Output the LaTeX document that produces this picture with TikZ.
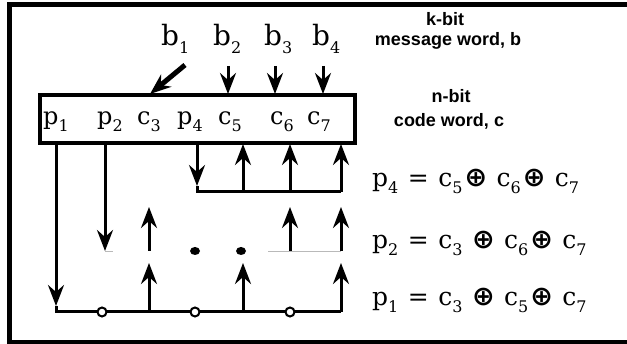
\documentclass[tikz,border=0pt]{standalone}
\usepackage{fontspec}
\setmainfont{DejaVu Serif}
\setsansfont{Liberation Sans}
\newfontfamily\symfont{DejaVu Sans}
\usetikzlibrary{arrows.meta,shapes.geometric}
\newcommand{\lowidx}[1]{\raisebox{-0.27em}{\fontsize{16}{16}\selectfont #1}}
\newcommand{\xo}{{\symfont\bfseries\fontsize{27}{27}\selectfont ⊕}}
\newcommand{\gapA}{\hspace{9.5pt}}
\newcommand{\gapB}{\hspace{2pt}}
\begin{document}
\begin{tikzpicture}[x=1pt,y=-1pt,
  conn/.style={line width=3pt},
  arr/.style={conn,-{Stealth[length=21pt,width=16pt,inset=7pt]}},
  lbl/.style={inner sep=0pt,anchor=base west,font=\fontsize{24}{24}\selectfont},
  eq/.style={inner sep=0pt,anchor=base west,font=\fontsize{25}{25}\selectfont},
  blbl/.style={inner sep=0pt,anchor=base west,font=\fontsize{28}{28}\selectfont},
  note/.style={inner sep=0pt,anchor=base,font=\fontsize{18}{18}\selectfont\sffamily\bfseries},
  hole/.style={circle,draw,fill=white,line width=2pt,minimum size=9pt,inner sep=0pt},
  dot/.style={ellipse,fill=black,minimum width=10pt,minimum height=8pt,inner sep=0pt},
  faint/.style={gray!55,line width=0.8pt}
]
\useasboundingbox (0,0) rectangle (627,344);
% frame
\coordinate (f1) at (627,4.5);
\coordinate (f2) at (9.5,4.5);
\coordinate (f3) at (9.5,342);
\coordinate (f4) at (627,342);
\draw[line width=4.5pt] (f1) -- (f2) -- (f3) -- (f4);
% register
\node (reg) [draw, line width=3.2pt, minimum width=315pt, minimum height=48pt, inner sep=0pt] at (197.5,119) {};
\node[lbl] (lp1) at (43,125) {p\lowidx{1}};
\node[lbl] (lp2) at (97,125) {p\lowidx{2}};
\node[lbl] (lc3) at (137,125) {c\lowidx{3}};
\node[lbl] (lp4) at (177,125) {p\lowidx{4}};
\node[lbl] (lc5) at (218,125) {c\lowidx{5}};
\node[lbl] (lc6) at (270,125) {c\lowidx{6}};
\node[lbl] (lc7) at (307,125) {c\lowidx{7}};
% message bits
\node[blbl] (lb1) at (161,46) {b\lowidx{1}};
\node[blbl] (lb2) at (213,46) {b\lowidx{2}};
\node[blbl] (lb3) at (264,46) {b\lowidx{3}};
\node[blbl] (lb4) at (312,46) {b\lowidx{4}};
\coordinate (b1s) at (185,65);  \coordinate (b1e) at (150,94);
\coordinate (b2s) at (228,66);  \coordinate (b2e) at (228,94);
\coordinate (b3s) at (275,66);  \coordinate (b3e) at (275,94);
\coordinate (b4s) at (323,66);  \coordinate (b4e) at (323,94);
\draw[arr,line width=5pt] (b1s) -- (b1e);
\draw[arr] (b2s) -- (b2e);
\draw[arr] (b3s) -- (b3e);
\draw[arr] (b4s) -- (b4e);
% columns below the register
\coordinate (t1) at (56,144);  \coordinate (t2) at (105,144);
\coordinate (t4) at (197,144); \coordinate (t5) at (243,144);
\coordinate (t6) at (290,144); \coordinate (t7) at (341,144);
% row 1 (p4)
\coordinate (r1a) at (197,186); \coordinate (r1L) at (197,192);
\coordinate (r1c5) at (243,192); \coordinate (r1c6) at (290,192); \coordinate (r1R) at (341,192);
\draw[arr] (t4) -- (r1a);
\draw[conn] (r1a) -- (r1L) -- (r1R);
\draw[arr] (r1c5) -- (t5);
\draw[arr] (r1c6) -- (t6);
\draw[arr] (r1R) -- (t7);
% row 2 (p2)
\coordinate (r2L) at (105,251);
\coordinate (r2c3) at (149,251); \coordinate (r2c3t) at (149,207);
\coordinate (r2c6) at (290,251); \coordinate (r2c6t) at (290,207);
\coordinate (r2R) at (341,251);  \coordinate (r2Rt) at (341,207);
\coordinate (r2g1) at (113,251); \coordinate (r2g2) at (268,251);
\draw[faint] (r2L) -- (r2g1);
\draw[faint] (r2g2) -- (r2R);
\draw[arr] (t2) -- (r2L);
\draw[arr] (r2c3) -- (r2c3t);
\draw[arr] (r2c6) -- (r2c6t);
\draw[arr] (r2R) -- (r2Rt);
\node[dot] (d1) at (195,251) {};
\node[dot] (d2) at (241,251) {};
% row 3 (p1)
\coordinate (r3a) at (56,306); \coordinate (r3L) at (56,312);
\coordinate (r3c3) at (149,312); \coordinate (r3c3t) at (149,263);
\coordinate (r3c5) at (243,312); \coordinate (r3c5t) at (243,263);
\coordinate (r3R) at (341,312);  \coordinate (r3Rt) at (341,263);
\draw[arr] (t1) -- (r3a);
\draw[conn] (r3a) -- (r3L) -- (r3R);
\draw[arr] (r3c3) -- (r3c3t);
\draw[arr] (r3c5) -- (r3c5t);
\draw[arr] (r3R) -- (r3Rt);
\node[hole] (h1) at (102,312) {};
\node[hole] (h2) at (195,312) {};
\node[hole] (h3) at (290,312) {};
% equations
\node[eq] (e4) at (372,187) {p\lowidx{4}\gapA=\gapA c\lowidx{5}\gapB\xo\gapA c\lowidx{6}\gapB\xo\gapA c\lowidx{7}};
\node[eq] (e2) at (372,249) {p\lowidx{2}\gapA=\gapA c\lowidx{3}\gapA\xo\gapA c\lowidx{6}\gapB\xo\gapA c\lowidx{7}};
\node[eq] (e1) at (372,306) {p\lowidx{1}\gapA=\gapA c\lowidx{3}\gapA\xo\gapA c\lowidx{5}\gapB\xo\gapA c\lowidx{7}};
% notes
\node[note] (kb) at (445,26) {k-bit};
\node[note] (mw) at (448,46) {message word, b};
\node[note] (nb) at (451,103) {n-bit};
\node[note] (cw) at (449,127) {code word, c};
\end{tikzpicture}
\end{document}
